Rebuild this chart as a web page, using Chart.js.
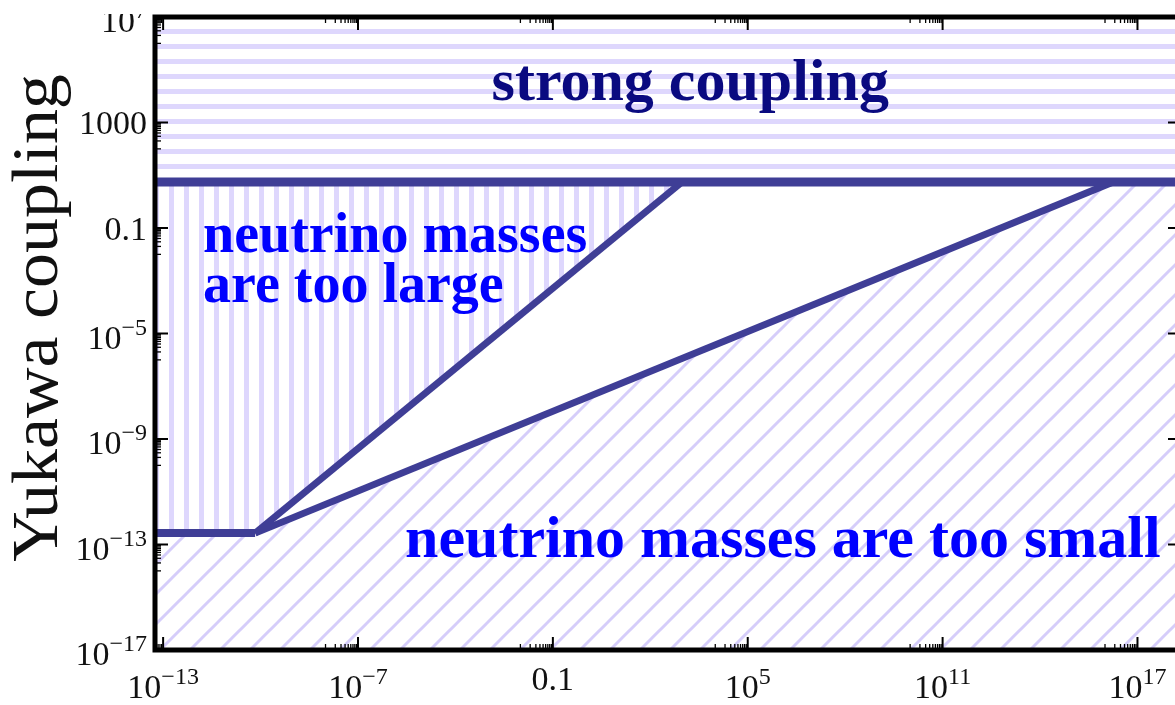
<!DOCTYPE html>
<html>
<head>
<meta charset="utf-8">
<script src="https://cdn.jsdelivr.net/npm/chart.js@4.4.0/dist/chart.umd.min.js"></script>
<style>
  html, body { margin: 0; padding: 0; background: #fff; overflow: hidden; }
  #chart { position: absolute; left: 0; top: 0; }
</style>
</head>
<body>
<canvas id="chart" width="1190" height="705"></canvas>
<script>
// axis ranges
const X_MIN = Math.pow(10, -13.25);
const X_MAX = Math.pow(10, 18.34);
const Y_MIN = 1e-17;
const Y_MAX = 1e7;

// ticks: decade exponent + label ("^" starts the superscript)
const xTickExp = [-13, -7, -1, 5, 11, 17];
const xTickLabels = ['10^\u221213', '10^\u22127', '0.1', '10^5', '10^11', '10^17'];
const yTickExp = [7, 3, -1, -5, -9, -13, -17];
const yTickLabels = ['10^7', '1000', '0.1', '10^\u22125', '10^\u22129', '10^\u221213', '10^\u221217'];

// boundary lines
const strongX = [X_MIN, X_MAX];
const strongY = [5.6, 5.6];
const floorX = [X_MIN, 6.8e-11];
const floorY = [2.7e-13, 2.7e-13];
const largeX = [6.8e-11, 960];
const largeY = [2.7e-13, 5.6];
const smallX = [6.8e-11, 1.8e16];
const smallY = [2.7e-13, 5.6];

// region labels, positions in log10 units
const notes = [
  { text: 'strong coupling', lx: 3.23, ly: 3.85, align: 'center', size: 60, color: '#0a0a80' },
  { text: 'neutrino masses', lx: -11.77, ly: -1.91, align: 'left', size: 56, color: '#0000ff' },
  { text: 'are too large', lx: -11.77, ly: -3.81, align: 'left', size: 56, color: '#0000ff' },
  { text: 'neutrino masses are too small', lx: -5.55, ly: -13.47, align: 'left', size: 60, color: '#0000ff' }
];

const LINE = 'rgb(63,62,150)';
const HATCH = 'rgb(222,215,253)';
const SERIF = '"Liberation Serif", "Times New Roman", serif';

const pts = (xs, ys) => xs.map((x, i) => ({ x: x, y: ys[i] }));

function hatch(kind) {
  const p = kind === 'diag' ? 30 : 15;
  const c = document.createElement('canvas');
  c.width = p; c.height = p;
  const g = c.getContext('2d');
  g.fillStyle = '#fff';
  g.fillRect(0, 0, p, p);
  if (kind === 'horiz') {
    g.fillStyle = HATCH;
    g.fillRect(0, 0, p, 4);
    g.fillRect(0, 14, p, 1);
  } else if (kind === 'vert') {
    g.fillStyle = HATCH;
    g.fillRect(4, 0, 5, p);
  } else {
    g.strokeStyle = 'rgb(213,205,250)';
    g.lineWidth = 3;
    [0, p, 2 * p].forEach(k => {
      g.beginPath();
      g.moveTo(-3, k + 3);
      g.lineTo(p + 3, k - p - 3);
      g.stroke();
    });
  }
  return g.createPattern(c, 'repeat');
}

function splitLabel(s) {
  const i = s.indexOf('^');
  return i < 0 ? [s, ''] : [s.slice(0, i), s.slice(i + 1)];
}

const BASE_FONT = '34px ' + SERIF;
const SUP_FONT = '24px ' + SERIF;

function drawLabel(ctx, label, x, baseline, align) {
  const [base, sup] = splitLabel(label);
  ctx.font = BASE_FONT;
  const wb = ctx.measureText(base).width;
  ctx.font = SUP_FONT;
  const ws = sup ? ctx.measureText(sup).width : 0;
  const w = wb + ws;
  const x0 = align === 'center' ? x - w / 2 : x - w;
  ctx.textAlign = 'left';
  ctx.textBaseline = 'alphabetic';
  ctx.font = BASE_FONT;
  ctx.fillText(base, x0, baseline);
  if (sup) {
    ctx.font = SUP_FONT;
    ctx.fillText(sup, x0 + wb, baseline - 14);
  }
}

const framePlugin = {
  id: 'frame',
  afterDatasetsDraw(chart) {
    const ctx = chart.ctx;
    const xs = chart.scales.x, ys = chart.scales.y;
    ctx.save();
    notes.forEach(n => {
      ctx.font = 'bold ' + n.size + 'px ' + SERIF;
      ctx.fillStyle = n.color;
      ctx.textAlign = n.align;
      ctx.textBaseline = 'alphabetic';
      ctx.fillText(n.text, xs.getPixelForValue(Math.pow(10, n.lx)), ys.getPixelForValue(Math.pow(10, n.ly)));
    });
    ctx.restore();
  },
  afterDraw(chart) {
    const ctx = chart.ctx;
    const a = chart.chartArea;
    const xs = chart.scales.x, ys = chart.scales.y;
    ctx.save();
    ctx.strokeStyle = '#000';
    ctx.fillStyle = '#111';

    // ticks, major inward 13px, minor (1..9 x previous decade) 6px
    const tick = (x1, y1, x2, y2, w) => {
      ctx.lineWidth = w;
      ctx.beginPath(); ctx.moveTo(x1, y1); ctx.lineTo(x2, y2); ctx.stroke();
    };
    xTickExp.forEach(e => {
      const px = xs.getPixelForValue(Math.pow(10, e));
      tick(px, a.bottom, px, a.bottom - 13, 2);
      tick(px, a.top, px, a.top + 13, 2);
      for (let k = 1; k <= 9; k++) {
        const mx = xs.getPixelForValue(k * Math.pow(10, e - 1));
        if (mx < a.left + 2 || mx > a.right - 2) continue;
        tick(mx, a.bottom, mx, a.bottom - 6, 1.3);
        tick(mx, a.top, mx, a.top + 6, 1.3);
      }
    });
    yTickExp.forEach(e => {
      const py = ys.getPixelForValue(Math.pow(10, e));
      tick(a.left, py, a.left + 13, py, 2);
      tick(a.right, py, a.right - 13, py, 2);
      for (let k = 1; k <= 9; k++) {
        const my = ys.getPixelForValue(k * Math.pow(10, e - 1));
        if (my < a.top + 2 || my > a.bottom - 2) continue;
        tick(a.left, my, a.left + 6, my, 1.3);
        tick(a.right, my, a.right - 6, my, 1.3);
      }
    });

    // frame
    ctx.lineWidth = 5;
    ctx.strokeRect(a.left, a.top, a.right - a.left, a.bottom - a.top);

    // tick labels
    xTickExp.forEach((e, i) => {
      const px = xs.getPixelForValue(Math.pow(10, e));
      const hasSup = xTickLabels[i].indexOf('^') >= 0;
      drawLabel(ctx, xTickLabels[i], px, a.bottom + (hasSup ? 48 : 40), 'center');
    });
    ctx.save();
    ctx.beginPath();
    ctx.rect(0, 14, chart.width, chart.height);
    ctx.clip();
    yTickExp.forEach((e, i) => {
      const py = ys.getPixelForValue(Math.pow(10, e));
      const hasSup = yTickLabels[i].indexOf('^') >= 0;
      drawLabel(ctx, yTickLabels[i], a.left - 8, py + (hasSup ? 15 : 11.5), 'right');
    });
    ctx.restore();

    // y axis title
    ctx.translate(57, 318);
    ctx.rotate(-Math.PI / 2);
    ctx.scale(1.06, 1);
    ctx.font = '66px ' + SERIF;
    ctx.textAlign = 'center';
    ctx.textBaseline = 'alphabetic';
    ctx.fillText('Yukawa coupling', 0, 0);
    ctx.restore();
  }
};

const lineDs = (data, w) => ({
  data: data, borderColor: LINE, borderWidth: w, fill: false,
  pointRadius: 0, tension: 0, borderCapStyle: 'butt', borderJoinStyle: 'round', order: 0
});
const areaDs = (data, fill, bg, order) => ({
  data: data, borderColor: 'rgba(0,0,0,0)', borderWidth: 0, fill: fill,
  backgroundColor: bg, pointRadius: 0, tension: 0, order: order
});

new Chart(document.getElementById('chart'), {
  type: 'line',
  data: {
    datasets: [
      lineDs(pts(strongX, strongY), 9),
      lineDs(pts(floorX, floorY), 8),
      lineDs(pts(largeX, largeY), 7),
      lineDs(pts(smallX, smallY), 7),
      areaDs(pts(strongX, strongY), 'end', hatch('horiz'), 1),
      areaDs(pts(floorX.concat(largeX.slice(1)), floorY.concat(largeY.slice(1))), 'end', hatch('vert'), 2),
      areaDs(pts(floorX.concat(smallX.slice(1), [X_MAX]), floorY.concat(smallY.slice(1), [strongY[1]])), 'start', hatch('diag'), 3)
    ]
  },
  options: {
    responsive: false,
    animation: false,
    layout: { padding: { left: 155, top: 17, right: 9, bottom: 55 } },
    plugins: { legend: { display: false }, tooltip: { enabled: false } },
    scales: {
      x: { type: 'logarithmic', min: X_MIN, max: X_MAX, display: false },
      y: { type: 'logarithmic', min: Y_MIN, max: Y_MAX, display: false }
    }
  },
  plugins: [framePlugin]
});
</script>
</body>
</html>
